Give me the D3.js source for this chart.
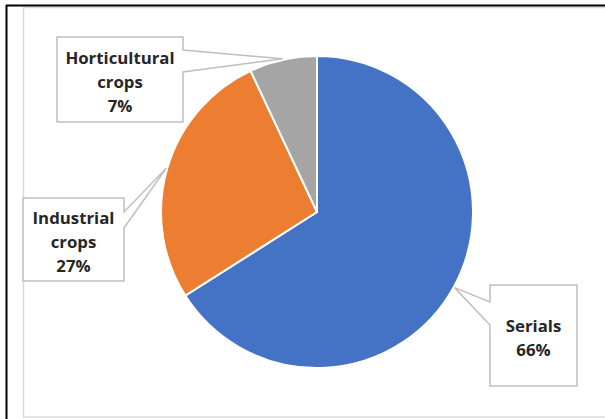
<!DOCTYPE html>
<html>
<head>
<meta charset="utf-8">
<script src="https://cdn.jsdelivr.net/npm/d3@7"></script>
<style>
  body { margin: 0; background: #fff; }
  svg { display: block; }
</style>
</head>
<body>
<div id="chart"></div>
<script>
var width = 605, height = 419;

// data
var categories = ["Serials", "Industrial crops", "Horticultural crops"];
var values = [66, 27, 7];
var labelLines = [["Serials", "66%"], ["Industrial", "crops", "27%"], ["Horticultural", "crops", "7%"]];
var colors = ["#4472C4", "#ED7D31", "#A5A5A5"];

// callout boxes (layout only): x, y, w, h, side where the pointer leaves, pointer y range
var boxes = [
  { x: 490, y: 285, w: 87, h: 101, side: "left", p0: 17, p1: 40 },
  { x: 23, y: 198, w: 101, h: 83, side: "right", p0: 14, p1: 30 },
  { x: 57, y: 37, w: 126, h: 85, side: "right", p0: 13, p1: 35 }
];

var cx = 317, cy = 212, radius = 156;

var svg = d3.select("#chart")
  .append("svg")
    .attr("width", width)
    .attr("height", height);

// outer frame
svg.append("rect")
  .attr("x", 23.5).attr("y", 7.5)
  .attr("width", 600).attr("height", 409.5)
  .attr("fill", "#fff")
  .attr("stroke", "#d9d9d9")
  .attr("stroke-width", 1.5);

svg.append("line")
  .attr("x1", 6.5).attr("x2", 6.5).attr("y1", 5).attr("y2", height)
  .attr("stroke", "#000").attr("stroke-width", 2);
svg.append("line")
  .attr("x1", 6).attr("x2", width).attr("y1", 5.5).attr("y2", 5.5)
  .attr("stroke", "#000").attr("stroke-width", 2);

var pie = d3.pie().sort(null).value(function(d) { return d; });
var arcs = pie(values);

var arc = d3.arc().innerRadius(0).outerRadius(radius);

var g = svg.append("g")
  .attr("transform", "translate(" + cx + "," + cy + ")");

g.selectAll("path")
  .data(arcs)
  .enter()
  .append("path")
    .attr("d", arc)
    .attr("fill", function(d, i) { return colors[i]; })
    .attr("stroke", "#fff")
    .attr("stroke-width", 2);

// callouts
arcs.forEach(function(d, i) {
  var b = boxes[i];
  var mid = (d.startAngle + d.endAngle) / 2;
  var tx = cx + Math.sin(mid) * (radius + 1);
  var ty = cy - Math.cos(mid) * (radius + 1);
  var x0 = b.x, x1 = b.x + b.w, y0 = b.y, y1 = b.y + b.h;
  var pts;
  if (b.side == "right") {
    pts = [[x0, y0], [x1, y0], [x1, y0 + b.p0], [tx, ty], [x1, y0 + b.p1], [x1, y1], [x0, y1]];
  } else {
    pts = [[x0, y0], [x1, y0], [x1, y1], [x0, y1], [x0, y0 + b.p1], [tx, ty], [x0, y0 + b.p0]];
  }
  svg.append("path")
    .attr("d", d3.line()(pts) + "Z")
    .attr("fill", "#fff")
    .attr("stroke", "#bfbfbf")
    .attr("stroke-width", 1.5);

  var lines = labelLines[i];
  var lh = 24;
  var midY = (y0 + y1) / 2;
  var text = svg.append("text")
    .attr("text-anchor", "middle")
    .attr("font-family", "'Open Sans', sans-serif")
    .attr("font-weight", "bold")
    .attr("font-size", "16.8px")
    .attr("fill", "#262626");
  lines.forEach(function(l, k) {
    text.append("tspan")
      .attr("x", (x0 + x1) / 2)
      .attr("y", midY + (k - (lines.length - 1) / 2) * lh + 8)
      .text(l);
  });
});
</script>
</body>
</html>
